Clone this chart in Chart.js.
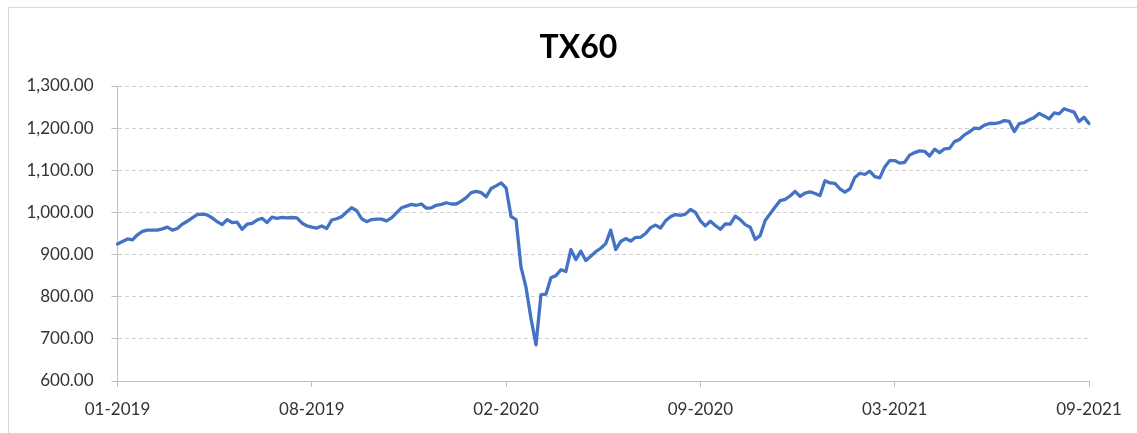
<!DOCTYPE html>
<html>
<head>
<meta charset="utf-8">
<script src="https://cdn.jsdelivr.net/npm/chart.js@4.4.1/dist/chart.umd.min.js"></script>
<style>
  html, body { margin: 0; padding: 0; background: #fff; overflow: hidden; }
  #frame { position: absolute; left: 8px; top: 7px; width: 1160px; height: 460px; border: 1px solid #d9d9d9; box-sizing: border-box; }
  #c { position: absolute; left: 0; top: 0; }
</style>
</head>
<body>
<div id="frame"></div>
<canvas id="c" width="1137" height="433"></canvas>
<script>
const title = 'TX60';
const tickLabels = ['01-2019', '08-2019', '02-2020', '09-2020', '03-2021', '09-2021'];
const pointsPerLabel = 39;
const values = [
  925, 931, 937, 935, 947, 955, 958, 958, 958, 961,
  965, 958, 962, 972, 979, 987, 995, 996, 994, 987,
  978, 971, 983, 976, 977, 960, 972, 974, 982, 986,
  976, 989, 986, 988, 987, 988, 987, 975, 968, 965,
  963, 968, 962, 982, 985, 990, 1001, 1011, 1004, 985,
  978, 983, 984, 984, 980, 987, 999, 1011, 1015, 1019,
  1017, 1020, 1010, 1011, 1017, 1019, 1023, 1020, 1020, 1027,
  1035, 1047, 1050, 1047, 1037, 1057, 1063, 1070, 1058, 990,
  983, 870, 822, 748, 686, 805, 806, 845, 850, 864,
  860, 912, 888, 908, 886, 896, 907, 915, 926, 958,
  912, 931, 938, 932, 941, 941, 950, 964, 970, 963,
  980, 990, 995, 993, 996, 1007, 1000, 980, 968, 979,
  969, 960, 973, 972, 991, 983, 971, 965, 936, 945,
  981, 997, 1013, 1028, 1031, 1039, 1050, 1038, 1046, 1049,
  1045, 1040, 1075, 1070, 1069, 1056, 1048, 1056, 1083, 1093,
  1090, 1098, 1085, 1082, 1108, 1123, 1123, 1117, 1119, 1136,
  1142, 1146, 1145, 1134, 1150, 1142, 1151, 1152, 1168, 1173,
  1184, 1191, 1200, 1199, 1207, 1211, 1211, 1213, 1218, 1216,
  1192, 1211, 1213, 1220, 1225, 1235, 1229, 1222, 1236, 1234,
  1246, 1242, 1238, 1216, 1226, 1211
];
const yMin = 600, yMax = 1300, yStep = 100;

const categories = values.map((_, i) => (i % pointsPerLabel === 0) ? tickLabels[i / pointsPerLabel] : '');

const labelFont = { family: 'Lato', size: 17 };
const labelColor = '#333333';
const axisColor = '#bfbfbf';

// Excel centres the title on the whole chart object, not on the plot area
const titleShift = {
  id: 'titleShift',
  afterLayout(chart) {
    if (chart.titleBlock) { chart.titleBlock.left = 68; }
  }
};

new Chart(document.getElementById('c'), {
  type: 'line',
  data: {
    labels: categories,
    datasets: [{
      data: values,
      borderColor: '#4472C4',
      borderWidth: 3.3,
      pointRadius: 0,
      tension: 0,
      borderJoinStyle: 'round',
      borderCapStyle: 'round',
      fill: false
    }]
  },
  plugins: [titleShift],
  options: {
    responsive: false,
    animation: false,
    devicePixelRatio: 1,
    layout: { padding: { left: 8, right: 48, top: 0, bottom: 0 } },
    plugins: {
      legend: { display: false },
      tooltip: { enabled: false },
      title: {
        display: true,
        text: title,
        color: '#000',
        font: { family: 'Lato', size: 32, weight: 'bold' },
        padding: { top: 28, bottom: 19.6 }
      }
    },
    scales: {
      x: {
        type: 'category',
        offset: false,
        afterFit: (s) => { s.height = 52; },
        grid: {
          drawOnChartArea: false,
          drawTicks: true,
          tickLength: 6,
          tickWidth: 1,
          tickColor: (ctx) => (ctx.index % pointsPerLabel === 0) ? axisColor : 'rgba(0,0,0,0)'
        },
        border: { display: true, color: axisColor, width: 1 },
        ticks: {
          autoSkip: false,
          maxRotation: 0,
          minRotation: 0,
          padding: 12,
          color: labelColor,
          font: labelFont
        }
      },
      y: {
        min: yMin,
        max: yMax,
        afterFit: (s) => { s.width = 109.5; },
        grid: {
          color: '#d0d0d0',
          lineWidth: 1,
          drawTicks: true,
          tickLength: 6,
          tickColor: axisColor,
          tickBorderDash: []
        },
        border: { display: true, color: axisColor, width: 1, dash: [4, 3] },
        ticks: {
          stepSize: yStep,
          padding: 18,
          color: labelColor,
          font: labelFont,
          callback: (v) => Number(v).toLocaleString('en-US', { minimumFractionDigits: 2, maximumFractionDigits: 2 })
        }
      }
    }
  }
});
</script>
</body>
</html>
